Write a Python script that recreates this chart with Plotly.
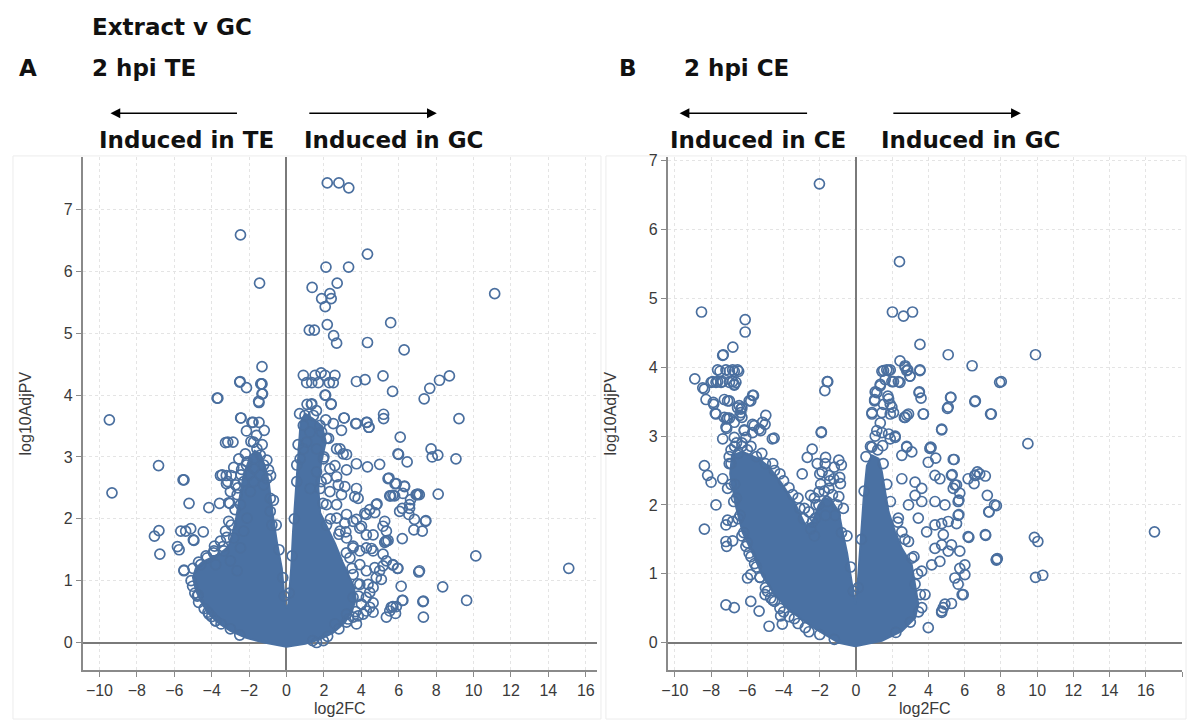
import plotly.graph_objects as go

W, H = 1187, 722

# ---------------- Panel A data (log2FC, log10AdjPV) ----------------
a_x = [2.18, 2.8, 3.33, 4.33, 2.11, 3.32, 1.37, 2.71, 2.32, 1.88, 2.39, 2.07, 11.13, -1.44, -2.46,
       1.22, 1.49, 2.18, 2.52, 2.68, 4.33, 5.57, 6.29, -1.31,
       0.90, 1.08, 1.53, 1.85, 2.06, 2.29, 2.59, 2.5, 1.7, 1.35,
       3.74, 4.2, 5.16, 5.67, 7.36, 7.66, 8.18, 8.71,
       2.09, 2.39, 1.33, 9.22, 5.19, 5.19, 6.08, 3.09, 3.74, 4.31, 4.4, 2.94,
       -1.49, -1.31, -1.31, -2.48, -2.14, -1.35, -1.28, -1.47, -3.67, -2.45, -2.14, -1.79, -1.47, -1.19, -9.47,
       -6.84, -9.33, -5.53, -5.21, -4.15, -6.82, -7.06, -6.77, -5.65, -5.39, -5.12, -4.45, -4.98, -5.74, -5.83, -5.48, -3.85,
       -3.53, -3.22, -2.96, -3.21, -2.82, -3.58, -3.09, -3.14, -2.86, -4.72, -4.2, -3.79, -5.02,
       7.73, 7.79, 8.09, 9.06, 5.99, 6.45, 4.98, 4.33, 3.74, 8.11, 5.48, 5.87, 6.31, 5.57, 5.78, 6.99, 7.1, 6.63, 6.22,
       4.84, 4.72, 6.05, 6.58, 6.54, 6.84, 7.45, 7.26, 6.81, 6.19, 5.3, 5.43, 10.12, 15.09, 7.07, 5.93, 5.69, 8.35,
       6.13, 9.63, 7.29, 6.22, 7.32, 5.34, 5.6, 5.83, 5.87, 4.63, 4.27, 3.83, 5.07, 5.16, 4.45, 4.36, 4.72, 4.98,
       3.56, 3.92, 4.54, 4.27, 4.01, 3.74, 5.25, 5.16, 4.19, 4.45, 3.74, 3.65, 3.12, 3.21, 2.68, 3.17, 3.12, 2.68, 3.03,
       1.35, 2.38, 2.06, 0.99, 1.44, 2.5, 3.07, 3.7, 4.27, 4.41, 5.96, 5.43, 5.8, 6.31, 6.93, 7.02, 5.52, 5.69, 6.19,
       6.58, 7.43, 5.34, 5.25, 7.11, 6.19, 7.32, 5.69, 5.52,
       2.86, 3.21, 2.32, 2.59, 3.83, 2.77, 2.94, 2.68, 3.21, 3.56, 4.27, 4.8, 3.92, 4.63, 5.34, 4.27, 4.63, 5.16,
       5.34, 5.69, 5.96, 4.27, 4.8, 4.63, 4.27, 4.45, 4.1, 4.63, 3.56, 3.74, 3.21, 1.97, 1.61,
       -2.5, -1.37, -3.71, -2.43, -1.85, -3.26, -1.76, -3.44, -3.14, -2.43, -2.14, -5.48, -3.03, -2.64, -4.95,
       -5.48, -4.77, -4.15, -3.8,
       -3.09, -3.26, -3.53, -3.35, -3.0, -2.64, -2.46, -2.82, -2.29, -2.11, -2.46, -1.93, -1.76, -1.4, -1.05,
       -0.87, -0.87, -0.78, -3.88, -4.24, -4.59, -3.79,
       -2.11, -1.76, -1.4, -1.22, -1.58, -1.76, -2.02, -2.29, -2.73, -3.0, -2.55, -0.96, -1.22,
       0.55, 0.73, 0.9, 1.08, 1.26, 0.9, 1.79, 1.88, 2.14, 1.61, 1.97, 1.61, 2.14, 1.79, 1.26, 2.32, 2.14, 2.68,
       2.86, 2.14, 3.21, 3.56, 3.39, 3.92, 3.56, 3.92, 3.56, 4.01, 3.21, 2.59,
       -5.1, -5.0, -4.9, -4.7, -4.4, -4.0, -3.5, -3.0, -2.5, -4.7, -4.3, -3.9, -3.4, -3.2, -2.95, -2.75, -2.6,
       -2.4, -2.2, -1.9, -1.6, -1.3, -1.05, -0.85, -0.7, -0.55, -0.4, -0.2, -0.12,
       0.15, 0.3, 0.42, 0.55, 0.62, 0.7, 1.1, 1.6, 2.1, 2.25, 2.0, 1.85, 1.95, 2.35, 2.8, 3.2, 3.5, 3.8, 3.85,
       3.7, 3.3, 2.8, 2.2, 1.4]
a_y = [7.43, 7.43, 7.35, 6.28, 6.07, 6.07, 5.74, 5.81, 5.64, 5.56, 5.56, 5.43, 5.64, 5.81, 6.59,
       5.05, 5.05, 5.14, 4.96, 4.84, 4.85, 5.17, 4.73, 4.46,
       4.32, 4.2, 4.32, 4.36, 4.32, 4.2, 4.32, 4.2, 4.2, 4.2,
       4.22, 4.25, 4.31, 4.06, 3.94, 4.11, 4.24, 4.31,
       4.0, 3.85, 3.85, 3.62, 3.69, 3.62, 3.32, 3.63, 3.54, 3.56, 3.48, 3.43,
       3.9, 4.02, 4.18, 4.22, 4.12, 4.18, 4.02, 3.88, 3.95, 3.63, 3.42, 3.56, 3.56, 3.43, 3.6,
       2.86, 2.42, 2.63, 2.25, 2.18, 1.81, 1.72, 1.43, 1.8, 1.8, 1.84, 1.79, 1.66, 1.5, 1.55, 1.17, 1.56,
       2.7, 2.7, 2.7, 2.57, 2.83, 2.25, 2.26, 3.24, 3.24, 0.77, 0.49, 0.35, 0.91,
       3.13, 3.0, 3.03, 2.97, 3.04, 2.92, 2.88, 2.84, 2.89, 2.4, 2.66, 2.57, 2.53, 2.37, 2.37, 2.39, 2.39, 2.31, 2.41,
       2.24, 2.1, 2.12, 2.17, 2.07, 1.99, 1.97, 1.8, 1.82, 1.68, 1.64, 1.65, 1.4, 1.2, 1.14, 1.2, 1.25, 0.9,
       0.91, 0.68, 0.66, 0.68, 0.41, 0.41, 0.57, 0.47, 0.58, 0.64, 0.51, 0.43, 1.02, 1.24, 0.81, 0.94, 1.21, 1.16,
       1.56, 1.48, 1.52, 1.74, 1.88, 1.99, 1.96, 1.88, 2.09, 2.15, 2.49, 2.36, 2.52, 2.79, 2.68, 1.79, 1.93, 3.13, 3.05,
       3.86, 3.86, 4.0, 3.67, 3.67, 3.54, 3.63, 3.54, 3.56, 3.48, 3.05, 2.65, 2.57, 2.52, 2.39, 2.4, 2.37, 2.38, 2.17,
       2.23, 1.96, 1.64, 1.62, 1.16, 0.68, 0.67, 0.58, 0.51,
       3.13, 3.04, 2.81, 2.86, 2.33, 2.55, 2.39, 2.23, 2.07, 1.96, 2.07, 2.23, 1.85, 1.74, 1.8, 1.53, 1.48, 1.43,
       1.32, 1.26, 1.2, 1.16, 1.05, 0.89, 0.73, 0.57, 0.46, 0.49, 0.41, 0.3, 0.33, 0.03, 0.0,
       4.21, 4.18, 3.95, 3.63, 3.56, 3.23, 3.24, 2.71, 2.6, 2.71, 2.87, 2.63, 2.25, 2.39, 1.65,
       1.16, 0.75, 0.46, 0.35,
       1.96, 1.8, 1.64, 1.48, 1.32, 1.16, 1.53, 1.69, 1.8, 2.01, 2.23, 2.44, 2.6, 2.71, 2.65,
       2.33, 2.12, 1.9, 1.48, 1.37, 1.26, 1.26,
       2.92, 2.97, 3.03, 2.87, 3.13, 2.81, 2.71, 2.6, 2.55, 2.44, 2.97, 2.79, 2.55,
       2.87, 2.97, 3.13, 3.24, 3.4, 3.51, 3.51, 3.4, 3.3, 3.13, 2.97, 2.76, 2.65, 2.49, 2.49, 2.44, 2.23, 2.01,
       1.8, 1.9, 1.69, 1.53, 1.37, 1.26, 1.1, 0.94, 0.73, 0.62, 0.46, 0.3,
       1.0, 1.2, 0.8, 0.65, 0.55, 0.42, 0.3, 0.22, 0.12, 1.3, 1.4, 1.45, 1.55, 1.7, 1.9, 2.15, 2.5,
       2.8, 3.05, 3.25, 3.35, 3.2, 2.95, 2.7, 2.3, 1.9, 1.5, 1.05, 0.75,
       0.8, 1.4, 2.0, 2.6, 3.2, 3.7, 3.85, 3.75, 3.6, 3.3, 3.0, 2.6, 2.25, 2.0, 1.75, 1.45, 1.2, 0.95, 0.75,
       0.5, 0.38, 0.22, 0.1, 0.03]

# outline of the saturated (fully overlapping) region of panel A
a_core_x = [0.0, -1.2, -2.2, -3.0, -3.7, -4.2, -4.6, -4.85, -5.0, -4.85, -4.5, -4.0, -3.5, -3.1, -2.9,
            -2.7, -2.5, -2.3, -2.0, -1.7, -1.4, -1.15, -0.95, -0.75, -0.5, -0.25, -0.08, 0.0, 0.1,
            0.25, 0.35, 0.5, 0.65, 0.75, 1.0, 1.4, 1.9, 2.1, 1.85, 1.7, 1.8, 2.2, 2.6, 3.0, 3.3,
            3.6, 3.7, 3.5, 3.1, 2.5, 1.8, 1.0, 0.0]
a_core_y = [-0.07, 0.0, 0.08, 0.19, 0.33, 0.48, 0.68, 0.85, 1.05, 1.2, 1.3, 1.38, 1.45, 1.55, 1.75,
            2.0, 2.35, 2.7, 2.95, 3.1, 3.05, 2.85, 2.6, 2.1, 1.6, 1.2, 0.62, 0.55, 0.62,
            1.2, 1.8, 2.4, 3.0, 3.55, 3.7, 3.62, 3.5, 3.25, 2.9, 2.5, 2.1, 1.85, 1.6, 1.3, 1.1,
            0.9, 0.7, 0.5, 0.32, 0.16, 0.05, -0.02, -0.07]

# ---------------- Panel B data ----------------
b_x = [-2.02, -8.53, -6.12, -6.12, -6.8, -7.33, -8.9, -8.37, -8.28, -7.86, -7.73, -7.91, -7.64, -7.36, -7.51,
       -6.99, -6.72, -6.48, -6.81, -6.63, -6.72, -7.27, -6.99, -6.45, -6.36, -6.41, -5.81, -5.66, -7.27, -7.14,
       -6.99, -7.14, -6.72, -6.3, -5.71, -4.98, -5.02, -6.17, -5.71, -5.35, -7.36, -6.72, -6.08, -4.52, -1.92,
       -1.72, -1.56,
       -7.36, -8.46, -7.88, -7.77, -7.09, -7.09, -6.54, -6.3, -6.36, -5.71, -5.9, -5.16, -7.18, -6.17, -5.62,
       -5.26, -4.62, -7.64, -7.18, -6.81, -6.54, -8.0, -7.73, -7.45, -6.99, -6.72,
       -8.37, -8.19, -8.0, -7.73, -8.37, -7.18, -7.09, -6.81, -7.18, -7.14, -6.81, -6.08, -5.99, -5.81, -7.18,
       -6.72, -5.81, -5.35, -4.8, -4.16, -4.07, -5.02, -4.71, -7.36, -7.09,
       -1.59, -1.91, -2.97, -2.42, -2.69, -1.68, -0.95, -0.81, -2.14, -1.87, -1.5, -1.23, -0.86, -2.51, -2.05,
       -1.5, -0.95, -2.6, -2.05, -2.24, -1.68,
       -6.9, -6.7, -6.6, -6.4, -6.2, -6.0, -5.8, -5.5, -5.3, -5.0, -4.6, -4.2, -3.7, -3.2, -2.6,
       -6.5, -6.0, -5.5, -5.0, -4.5, -4.0, -3.5, -3.1, -2.9, -6.9, -6.6, -6.3, -7.0,
       0.88, 1.03, 1.15, 1.34, 1.43, 1.7, 1.89, 2.07, 2.43, 1.76, 1.89, 2.07, 2.43, 2.71, 2.86, 2.98, 3.53,
       3.53, 3.48, 3.59, 2.67, 2.9, 3.72, 5.09, 6.41, 5.24, 5.09, 6.56, 7.47, 7.93, 4.73, 1.43, 1.89, 2.16,
       2.8, 2.53, 3.08, 4.08, 4.4, 5.42, 3.99, 4.36, 4.63, 5.27, 5.55, 5.37, 6.19, 6.56, 6.7, 7.14, 7.25,
       7.65, 7.33, 7.14, 6.19, 7.75, 5.68, 5.64, 5.09, 4.82, 5.27, 5.73, 6.01, 6.01, 5.64, 5.92, 3.99, 4.73,
       4.91, 3.63, 3.81, 3.26, 3.63, 4.18, 4.63, 5.09, 4.73, 4.36, 3.44, 3.9, 4.36, 4.73, 2.9, 3.26, 3.63,
       4.36, 4.91, 2.53, 3.26, 3.63, 2.34, 2.53, 2.9, 3.08,
       9.49, 16.48, 9.85, 10.04, 7.75, 7.8, 9.91, 10.31, 7.16, 6.23, 7.75, 7.35, 6.52, 6.83, 6.59, 5.37,
       4.14, 5.31, 5.46, 5.73, 5.64, 5.68, 5.55, 5.86, 5.27, 4.73, 4.82, 5.73, 5.46,
       2.4, 2.01, 2.62, 3.12, 9.91, 8.02, 2.71, 2.8, 3.53, 2.98, 1.52, 1.8, 1.61, 1.34, 1.98, 2.34, 1.06,
       1.03, 1.8, 1.52, 1.98, 1.89, 1.43, 0.88, 3.5, 5.22, 5.05, 6.59, 7.43, 2.71, 2.8, 3.72, 4.73, 1.34,
       1.15, 1.06, 1.8, 2.16, 1.47, 0.88, 2.8, 4.12,
       -7.0, -6.9, -6.75, -6.5, -6.3, -5.9, -5.6, -5.3, -4.9, -4.5, -4.0, -3.4, -2.8, -2.0, -1.2,
       -6.7, -6.3, -5.8, -5.2, -4.6, -4.2, -3.7, -3.2, -2.85, -2.3, -2.0, -1.7, -1.2, -0.9, -0.7, -0.5,
       -0.3, -0.15,
       0.12, 0.3, 0.45, 0.55, 0.8, 1.2, 1.5, 1.7, 1.9, 2.3, 2.7, 3.2, 3.4, 3.55, 3.45, 3.0, 2.2,
       -2.4, -2.2, -1.95, -1.75, -1.45, -1.3, -1.05, -2.5, -2.3, -1.6, -1.15, -0.8]
b_y = [6.66, 4.8, 4.69, 4.51, 4.29, 4.18, 3.83, 3.68, 3.53, 3.46, 3.32, 3.79, 3.79, 3.79, 3.94,
       3.94, 3.94, 3.94, 3.79, 3.78, 3.74, 3.53, 3.51, 3.44, 3.39, 3.3, 3.51, 3.59, 3.27, 3.25,
       3.26, 3.11, 3.2, 3.27, 3.17, 3.3, 3.17, 3.09, 3.05, 3.1, 2.96, 2.98, 2.98, 2.97, 3.05,
       3.66, 3.79,
       4.17, 3.7, 3.49, 3.33, 3.51, 3.26, 3.41, 3.41, 3.34, 3.59, 3.51, 3.2, 3.13, 3.08, 3.15,
       3.08, 2.96, 3.96, 3.96, 3.96, 3.96, 3.78, 3.78, 3.78, 3.78, 3.75,
       2.57, 2.43, 2.33, 2.0, 1.65, 1.71, 1.78, 1.76, 1.47, 1.4, 1.48, 1.4, 0.94, 0.99, 0.55,
       0.51, 0.6, 0.46, 0.24, 0.39, 0.27, 0.7, 0.65, 2.38, 2.24,
       3.79, 3.06, 2.45, 2.81, 2.69, 2.69, 2.65, 2.58, 2.6, 2.48, 2.43, 2.38, 2.31, 2.14, 2.19,
       2.24, 2.12, 1.9, 2.0, 1.81, 1.85,
       2.6, 2.3, 2.1, 1.85, 1.6, 1.45, 1.25, 1.1, 0.95, 0.8, 0.62, 0.5, 0.38, 0.28, 0.16,
       2.75, 2.8, 2.7, 2.6, 2.5, 2.35, 2.15, 1.95, 1.8, 2.8, 2.9, 2.85, 2.7,
       3.32, 3.51, 3.63, 3.73, 3.94, 3.96, 3.96, 3.79, 3.78, 3.58, 3.46, 3.34, 4.09, 4.02, 3.96, 3.87, 4.33,
       3.96, 3.63, 3.55, 3.27, 3.32, 3.32, 4.18, 4.02, 3.56, 3.42, 3.5, 3.32, 3.78, 3.09, 3.05, 2.96, 3.0,
       2.84, 2.72, 2.77, 2.82, 2.68, 2.66, 2.62, 2.43, 2.38, 2.43, 2.29, 2.24, 2.38, 2.43, 2.48, 2.42, 2.14,
       2.0, 1.9, 1.57, 1.54, 1.21, 2.07, 1.85, 1.76, 1.57, 1.42, 1.33, 1.13, 0.99, 0.85, 0.7, 0.22, 0.46,
       0.56, 0.51, 0.7, 0.85, 1.04, 1.13, 1.18, 1.33, 1.42, 1.37, 1.81, 1.61, 1.71, 1.73, 2.0, 2.14, 2.05,
       2.05, 2.0, 2.38, 2.33, 2.24, 1.81, 1.61, 1.47, 1.23,
       2.89, 1.61, 1.53, 1.47, 1.2, 1.22, 0.95, 0.98, 1.56, 1.53, 1.99, 1.9, 2.31, 2.45, 2.43, 2.66,
       2.83, 2.44, 2.29, 2.17, 2.05, 1.86, 1.73, 0.7, 0.57, 0.44, 0.51, 1.08, 0.94,
       5.53, 4.8, 4.74, 4.8, 4.18, 3.79, 4.0, 3.95, 3.95, 3.87, 3.95, 3.95, 3.82, 3.75, 3.79, 3.79, 3.64,
       3.53, 3.54, 3.46, 3.42, 3.32, 3.34, 3.34, 3.64, 3.56, 3.4, 3.51, 3.32, 3.27, 3.3, 3.32, 3.1, 3.19,
       3.08, 3.0, 3.03, 2.98, 2.86, 2.84, 2.85, 2.84,
       2.6, 2.3, 2.05, 1.8, 1.55, 1.3, 1.15, 0.95, 0.75, 0.6, 0.45, 0.35, 0.22, 0.12, 0.05,
       2.85, 2.9, 2.85, 2.75, 2.6, 2.45, 2.25, 2.1, 1.95, 2.1, 2.45, 2.6, 2.55, 2.4, 1.95, 1.55,
       1.1, 0.75,
       0.8, 1.5, 2.2, 2.7, 2.85, 2.8, 2.6, 2.3, 2.05, 1.75, 1.5, 1.25, 1.0, 0.7, 0.45, 0.3, 0.15,
       1.75, 2.0, 2.3, 2.2, 2.35, 2.15, 2.0, 1.65, 1.55, 2.05, 1.85, 1.6]

b_core_x = [-0.04, -0.95, -2.24, -3.52, -4.43, -5.16, -5.71, -6.26, -6.63, -6.95, -6.85, -6.26, -5.35, -4.8,
            -4.07, -3.33, -2.78, -2.42, -2.05, -1.68, -1.32, -0.95, -0.77, -0.49, -0.22, -0.04, 0.05, 0.24,
            0.42, 0.6, 0.88, 1.25, 1.43, 1.61, 1.8, 2.16, 2.53, 3.08, 3.26, 3.44, 3.26, 2.53, 1.43, -0.04]
b_core_y = [-0.05, 0.0, 0.2, 0.44, 0.68, 0.97, 1.3, 1.6, 1.98, 2.45, 2.72, 2.77, 2.67, 2.55,
            2.3, 2.0, 1.7, 1.75, 2.0, 2.1, 2.05, 1.9, 1.65, 1.3, 0.85, 0.56, 0.7, 1.37,
            2.09, 2.57, 2.72, 2.67, 2.48, 2.19, 1.9, 1.61, 1.37, 1.13, 0.85, 0.56, 0.36, 0.17, 0.03, -0.05]

a_xticks = list(range(-10, 17, 2))
b_xticks = list(range(-10, 19, 2))
y_ticks = list(range(0, 8))

# ---------------- styling ----------------
BLUE = "#4a6f9f"
CORE = "#4a71a3"
AXC = "#8a8a8a"
TICKF = dict(family="Liberation Sans, Arial, sans-serif", size=16, color="#3a3a3a")
TITLEF = dict(family="Liberation Sans, Arial, sans-serif", size=16, color="#3a3a3a")
HEAD = dict(family="DejaVu Sans, sans-serif", size=23, color="#111111")


def px(x):
    return x / W


def py(y):
    return 1 - y / H


fig = go.Figure()
for cx, cy, xa, ya in [(a_core_x, a_core_y, "x", "y"), (b_core_x, b_core_y, "x2", "y2")]:
    fig.add_trace(go.Scatter(x=cx, y=cy, mode="lines", fill="toself", fillcolor=CORE,
                             line=dict(color=CORE, width=2), xaxis=xa, yaxis=ya,
                             hoverinfo="skip", showlegend=False))
for xs, ys, xa, ya in [(a_x, a_y, "x", "y"), (b_x, b_y, "x2", "y2")]:
    fig.add_trace(go.Scatter(x=xs, y=ys, mode="markers", xaxis=xa, yaxis=ya, showlegend=False,
                             marker=dict(symbol="circle-open", size=10, color=BLUE,
                                         line=dict(width=1.7, color=BLUE))))

common_axis = dict(showgrid=True, gridcolor="#e4e4e4", griddash="dot", gridwidth=1,
                   zeroline=True, zerolinecolor="#7a7a7a", zerolinewidth=1.5,
                   showline=True, linecolor=AXC, linewidth=1.5, mirror=False,
                   ticks="outside", ticklen=5, tickcolor=AXC, tickwidth=1,
                   tickfont=TICKF, title_font=TITLEF)

ydom = [py(670), py(153)]
fig.update_layout(
    width=W, height=H, autosize=False,
    margin=dict(l=0, r=0, t=0, b=0),
    paper_bgcolor="white", plot_bgcolor="white",
    xaxis=dict(domain=[px(77), px(594)], range=[-10.9, 16.6], tickvals=a_xticks, anchor="y",
               title=dict(text="log2FC", standoff=4), **common_axis),
    yaxis=dict(domain=ydom, range=[-0.45, 7.85], tickvals=y_ticks, anchor="x",
               title=dict(text="log10AdjPV", standoff=28), **common_axis),
    xaxis2=dict(domain=[px(665), px(1182)], range=[-10.4, 18.0], tickvals=b_xticks, anchor="y2",
                title=dict(text="log2FC", standoff=4), **common_axis),
    yaxis2=dict(domain=ydom, range=[-0.4, 7.05], tickvals=y_ticks, anchor="x2",
                title=dict(text="log10AdjPV", standoff=28), **common_axis),
)

# faint outer frames of the two panels
for x0, x1 in [(7, 598), (603, 1186)]:
    fig.add_shape(type="rect", xref="paper", yref="paper", x0=px(x0), x1=px(x1), y0=py(719), y1=py(152),
                  line=dict(color="#ececec", width=1), layer="below")

texts = [
    ("Extract v GC", 84, 22), ("A", 11, 63), ("2 hpi TE", 84, 63),
    ("Induced in TE", 91, 136), ("Induced in GC", 298, 136),
    ("B", 614, 63), ("2 hpi CE", 679, 63),
    ("Induced in CE", 665, 136), ("Induced in GC", 877, 136),
]
for t, x, y in texts:
    fig.add_annotation(text="<b>%s</b>" % t, xref="paper", yref="paper", x=px(x), y=py(y),
                       xanchor="left", yanchor="middle", showarrow=False, font=HEAD)

arrows = [(105, 233), (433, 304), (677, 806), (1020, 891)]
for head, tail in arrows:
    fig.add_annotation(text="", xref="paper", yref="paper", x=px(head), y=py(109),
                       ax=tail - head, ay=0, showarrow=True, arrowhead=2, arrowsize=1.4,
                       arrowwidth=1.4, arrowcolor="#000000")

fig.write_html("out.html", config={"displayModeBar": False},
               post_script="document.body.style.margin='0px';")
